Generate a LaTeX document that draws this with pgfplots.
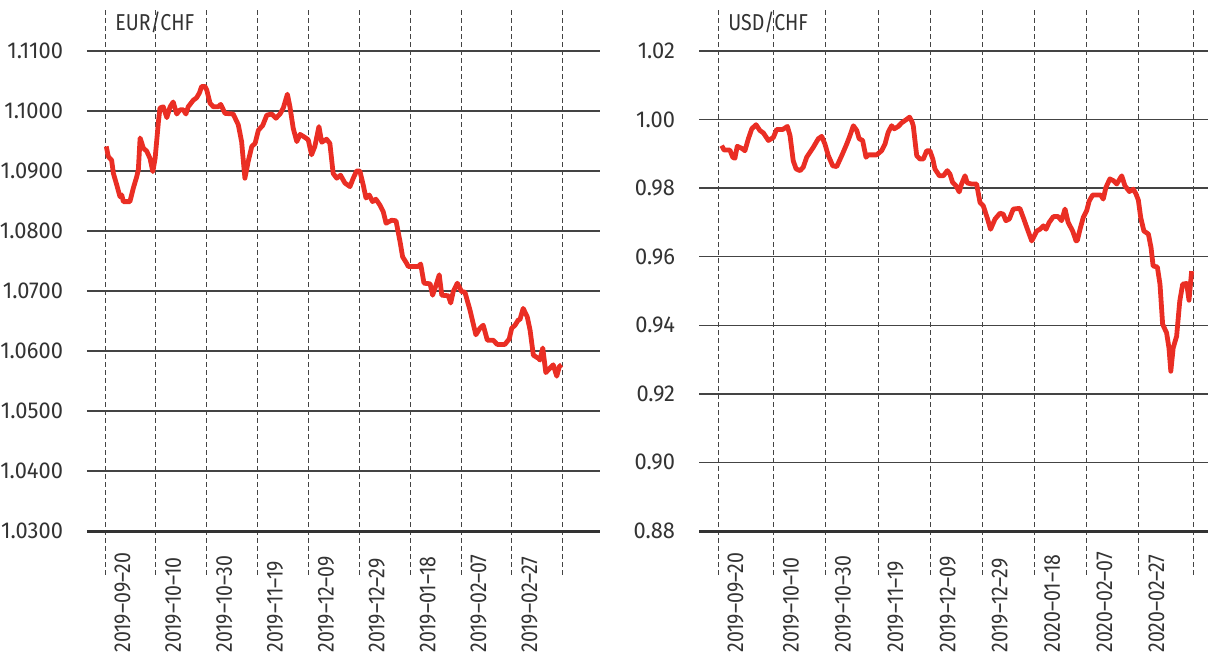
\documentclass[border=0pt]{standalone}
\usepackage{pgfplots}
\pgfplotsset{compat=1.18}
\usepackage{pgfplotstable}
\usepackage{fontspec}
\setmainfont{Fira Sans}[FakeStretch=0.95]
\newfontfamily\narrowfont{Fira Sans}[FakeStretch=0.85, Ligatures=TeX]
\definecolor{txt}{HTML}{333333}
\definecolor{redline}{HTML}{EA2E24}
\definecolor{gridc}{HTML}{444444}

\pgfplotstableread{
d v
0.5 1.0941
1.3 1.0924
2.6 1.0918
3.3 1.0896
4.6 1.0877
5.9 1.0857
6.6 1.0860
7.2 1.0849
9.8 1.0849
11.1 1.0871
12.5 1.0891
13.1 1.0902
13.8 1.0955
15.1 1.0938
16.4 1.0933
17.7 1.0921
18.8 1.0899
19.7 1.0921
21.0 1.0982
21.6 1.1005
22.9 1.1007
24.3 1.0989
25.6 1.1007
26.8 1.1015
28.2 1.0995
29.5 1.1002
30.8 1.1002
31.8 1.0995
32.7 1.1007
34.7 1.1018
36.0 1.1022
37.1 1.1030
38.0 1.1041
39.3 1.1041
40.0 1.1035
41.3 1.1013
42.6 1.1007
44.5 1.1007
45.5 1.1011
47.2 1.0996
50.4 1.0995
52.4 1.0977
53.7 1.0949
55.0 1.0888
56.3 1.0916
57.7 1.0941
59.0 1.0946
60.3 1.0968
62.0 1.0976
63.6 1.0993
65.5 1.0995
67.2 1.0988
68.8 1.0995
70.1 1.1005
71.7 1.1028
72.7 1.1007
74.0 1.0971
75.4 1.0949
76.7 1.0961
78.6 1.0956
79.9 1.0952
81.2 1.0927
82.5 1.0941
84.1 1.0974
85.2 1.0948
87.1 1.0953
88.4 1.0946
89.7 1.0896
91.1 1.0888
92.6 1.0893
94.3 1.0880
96.3 1.0874
97.6 1.0888
98.9 1.0900
100.2 1.0900
101.5 1.0877
102.6 1.0855
103.9 1.0860
105.2 1.0849
106.5 1.0853
108.1 1.0843
109.4 1.0832
110.5 1.0813
112.7 1.0818
114.4 1.0817
116.0 1.0782
117.0 1.0757
118.6 1.0746
119.2 1.0741
123.2 1.0741
124.1 1.0745
125.4 1.0713
127.8 1.0712
128.8 1.0693
130.4 1.0713
131.4 1.0727
132.4 1.0693
135.0 1.0692
135.9 1.0680
136.9 1.0699
138.5 1.0713
140.2 1.0699
141.5 1.0698
143.5 1.0668
145.8 1.0627
147.4 1.0638
148.7 1.0643
150.3 1.0618
152.6 1.0618
154.2 1.0611
157.2 1.0611
158.9 1.0620
159.9 1.0638
161.2 1.0643
162.5 1.0652
163.1 1.0652
164.4 1.0671
166.0 1.0657
167.1 1.0635
168.4 1.0593
170.3 1.0588
171.0 1.0585
172.1 1.0605
173.3 1.0564
174.6 1.0570
176.2 1.0577
177.6 1.0558
178.6 1.0574
179.5 1.0577
}\eurchf

\pgfplotstableread{
d v
1.4 0.9924
2.3 0.9911
4.5 0.9911
5.6 0.9890
6.4 0.9887
7.3 0.9922
9.0 0.9916
10.2 0.9909
11.5 0.9944
12.8 0.9973
14.4 0.9985
15.9 0.9968
17.2 0.9961
19.1 0.9939
21.0 0.9948
22.2 0.9971
24.5 0.9971
26.3 0.9980
27.3 0.9953
28.5 0.9880
29.6 0.9856
31.1 0.9851
32.3 0.9861
33.6 0.9890
36.1 0.9919
38.0 0.9944
39.3 0.9951
40.5 0.9929
41.8 0.9895
43.5 0.9865
45.0 0.9863
46.9 0.9895
48.8 0.9929
50.0 0.9953
51.3 0.9982
52.6 0.9968
53.5 0.9944
54.8 0.9939
56.1 0.9890
57.0 0.9897
60.1 0.9897
62.0 0.9909
63.3 0.9929
64.5 0.9963
65.8 0.9982
66.8 0.9973
68.3 0.9980
69.7 0.9991
71.2 0.9999
72.6 1.0007
73.5 0.9994
74.0 0.9982
75.3 0.9895
76.5 0.9885
77.8 0.9885
79.1 0.9909
80.3 0.9909
81.4 0.9885
82.2 0.9856
83.9 0.9836
85.4 0.9836
86.9 0.9851
87.9 0.9841
88.9 0.9817
90.2 0.9807
91.4 0.9789
92.3 0.9812
93.6 0.9836
94.5 0.9815
96.1 0.9812
98.0 0.9812
99.3 0.9758
100.5 0.9749
102.0 0.9714
103.3 0.9680
105.0 0.9710
106.9 0.9727
108.1 0.9724
109.1 0.9705
110.4 0.9710
111.9 0.9739
114.4 0.9741
115.7 0.9714
117.6 0.9673
118.9 0.9646
120.8 0.9675
122.0 0.9680
123.3 0.9690
124.3 0.9680
125.5 0.9700
127.1 0.9717
128.9 0.9717
130.2 0.9705
131.5 0.9739
132.7 0.9700
134.4 0.9675
135.7 0.9646
136.2 0.9648
137.2 0.9680
138.4 0.9714
139.7 0.9734
140.7 0.9763
142.0 0.9780
145.0 0.9780
146.0 0.9768
147.0 0.9802
148.5 0.9827
149.8 0.9822
151.1 0.9812
153.0 0.9836
154.2 0.9807
155.9 0.9790
157.4 0.9797
158.4 0.9783
159.3 0.9765
160.2 0.9714
161.4 0.9675
163.1 0.9666
164.1 0.9627
164.9 0.9573
166.5 0.9570
167.5 0.9520
168.5 0.9403
170.0 0.9378
170.9 0.9334
171.6 0.9266
172.5 0.9334
173.8 0.9368
175.0 0.9471
176.1 0.9520
177.6 0.9522
178.5 0.9473
179.5 0.9558
}\usdchf

\pgfplotsset{
  fxstyle/.style={
    scale only axis,
    height=283.5pt,
    anchor=south west,
    axis line style={draw=none},
    tick style={draw=none},
    xmajorgrids, ymajorgrids,
    major x grid style={gridc, line width=0.5pt, dash pattern=on 2.5pt off 1.5pt},
    major y grid style={gridc, line width=0.7pt},
    extra x tick style={grid=major},
    extra y tick style={grid=major, major y grid style={txt, line width=1.5pt}},
    /pgf/number format/assume math mode=true,
    every tick label/.append style={font=\fontsize{11.5}{13}\selectfont, text=txt},
    yticklabel style={anchor=east, xshift=-8.5pt},
    xticklabel style={inner sep=0pt, font=\narrowfont\fontsize{11.5}{13}\selectfont, xshift=8.75pt, yshift=-39pt, rotate=90, anchor=west},
    clip=false,
  }
}

\begin{document}
\begin{tikzpicture}
\path[use as bounding box] (-43.5pt,-40.5pt) rectangle (560.5pt,287.5pt);
\begin{axis}[fxstyle,
  at={(0pt,0pt)},
  width=256.5pt,
  xmin=-7.08, xmax=194.6,
  ymin=1.02267, ymax=1.11717,
  xtick={0,20,40,60,80,100,120,140,160},
  xticklabels={2019--09--20,2019--10--10,2019--10--30,2019--11--19,2019--12--09,2019--12--29,2019--01--18,2019--02--07,2019--02--27},
  extra x ticks={180}, extra x tick labels={},
  ytick={1.04,1.05,1.06,1.07,1.08,1.09,1.10,1.11},
  extra y ticks={1.03},
  /pgf/number format/.cd, fixed, fixed zerofill, precision=4,
]
\addplot[redline, line width=2.4pt, line join=round] table[x=d, y=v] {\eurchf};
\node[anchor=west, inner sep=0pt, text=txt, font=\narrowfont\fontsize{11.5}{13}\selectfont] at (rel axis cs:0.0546,0.9753) {EUR/CHF};
\end{axis}
\begin{axis}[fxstyle,
  at={(306pt,0pt)},
  width=254.5pt,
  xmin=-7.2, xmax=185.7,
  ymin=0.86717, ymax=1.03254,
  xtick={0,21.1,40.8,60.7,80.5,100.2,120.0,139.8,159.5},
  xticklabels={2019--09--20,2019--10--10,2019--10--30,2019--11--19,2019--12--09,2019--12--29,2020--01--18,2020--02--07,2020--02--27},
  extra x ticks={180.2}, extra x tick labels={},
  ytick={0.90,0.92,0.94,0.96,0.98,1.00,1.02},
  extra y ticks={0.88},
  /pgf/number format/.cd, fixed, fixed zerofill, precision=2,
]
\addplot[redline, line width=2.4pt, line join=round] table[x=d, y=v] {\usdchf};
\node[anchor=west, inner sep=0pt, text=txt, font=\narrowfont\fontsize{11.5}{13}\selectfont] at (rel axis cs:0.057,0.9753) {USD/CHF};
\end{axis}
\end{tikzpicture}
\end{document}
